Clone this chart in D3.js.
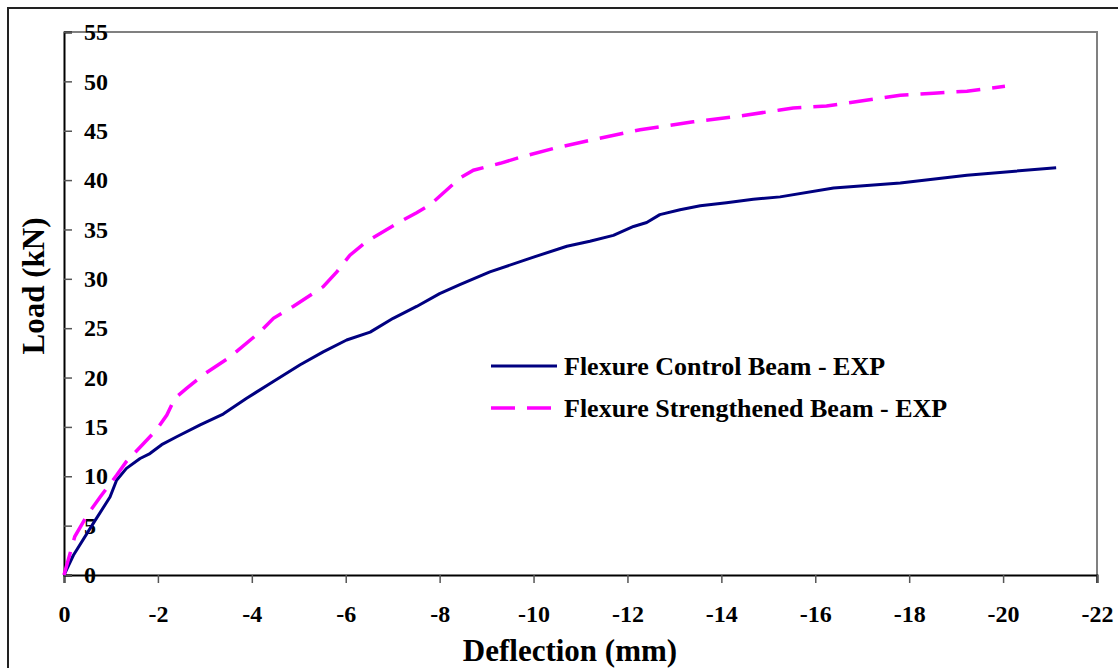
<!DOCTYPE html>
<html>
<head>
<meta charset="utf-8">
<script src="https://cdn.jsdelivr.net/npm/d3@7"></script>
<style>
  html, body { margin: 0; padding: 0; background: #fff; }
  svg { display: block; }
  text { font-family: "Liberation Serif", "DejaVu Serif", serif; font-weight: bold; fill: #000; }
</style>
</head>
<body>
<svg id="chart" width="1118" height="668"></svg>
<script>
// Load–deflection readings for the two beams
const controlDeflection = [0, -0.2, -0.62, -0.98, -1.12, -1.33, -1.62, -1.83, -2.08, -2.4, -2.9, -3.39, -3.89, -4.39, -5.03, -5.52, -6.02, -6.52, -7.01, -7.51, -8.0, -8.43, -9.07, -10.0, -10.71, -11.2, -11.7, -12.13, -12.41, -12.69, -13.12, -13.55, -14.11, -14.68, -15.25, -16.39, -17.81, -19.23, -21.13];
const controlLoad = [0, 2.0, 5.2, 7.9, 9.6, 10.8, 11.8, 12.3, 13.2, 14.0, 15.2, 16.3, 17.9, 19.4, 21.3, 22.6, 23.8, 24.6, 26.0, 27.2, 28.5, 29.4, 30.7, 32.2, 33.3, 33.8, 34.4, 35.3, 35.7, 36.5, 37.0, 37.4, 37.7, 38.05, 38.3, 39.2, 39.7, 40.5, 41.25];

const strengthenedDeflection = [0, -0.23, -0.52, -0.77, -1.12, -1.33, -1.69, -1.97, -2.19, -2.36, -2.61, -2.97, -3.54, -4.17, -4.46, -4.88, -5.52, -5.81, -6.09, -6.45, -7.09, -7.51, -7.8, -8.43, -8.72, -9.29, -9.78, -10.42, -11.27, -12.27, -13.4, -14.26, -15.25, -15.53, -16.24, -16.67, -17.81, -18.52, -19.23, -20.04];
const strengthenedLoad = [0, 3.9, 6.25, 7.9, 10.1, 11.5, 13.3, 14.7, 16.2, 17.9, 18.9, 20.3, 22.1, 24.6, 26.0, 27.2, 29.2, 30.7, 32.4, 33.8, 35.6, 36.7, 37.5, 40.2, 41.0, 41.7, 42.4, 43.2, 44.1, 45.1, 45.9, 46.4, 47.1, 47.3, 47.5, 47.8, 48.6, 48.8, 49.0, 49.5];

const xTicks = [0, -2, -4, -6, -8, -10, -12, -14, -16, -18, -20, -22];
const yTicks = [0, 5, 10, 15, 20, 25, 30, 35, 40, 45, 50, 55];

const seriesNames = ["Flexure Control Beam - EXP", "Flexure Strengthened Beam - EXP"];
const seriesColors = ["#000080", "#ff00ff"];

const serif = '"Liberation Serif", "DejaVu Serif", serif';
const svg = d3.select("#chart");
const plot = { left: 64, right: 1097, top: 32, bottom: 575 };

const x = d3.scaleLinear().domain([0, -22]).range([plot.left, plot.right]);
const y = d3.scaleLinear().domain([0, 55]).range([plot.bottom, plot.top]);

// outer frame
svg.append("rect")
  .attr("x", 8).attr("y", 8).attr("width", 1140).attr("height", 700)
  .attr("fill", "none").attr("stroke", "#222").attr("stroke-width", 2);

// plot frame (top and right edges)
svg.append("path")
  .attr("d", `M${plot.left},${plot.top}H${plot.right}V${plot.bottom + 8}`)
  .attr("fill", "none").attr("stroke", "#808080").attr("stroke-width", 2);

// x axis
const xAxis = svg.append("g")
  .attr("transform", `translate(0,${plot.bottom})`)
  .call(d3.axisBottom(x).tickValues(xTicks).tickSize(8).tickPadding(22).tickFormat(d => String(d)))
  .attr("font-family", serif).attr("font-size", 24).attr("font-weight", "bold");
xAxis.select(".domain").attr("stroke", "#000").attr("stroke-width", 2);
xAxis.selectAll(".tick line").attr("stroke", "#555").attr("stroke-width", 1.5);
xAxis.selectAll(".tick text").attr("fill", "#000");

// y axis: ticks point into the plot, labels sit inside
const yAxis = svg.append("g")
  .attr("transform", `translate(${plot.left},0)`)
  .call(d3.axisRight(y).tickValues(yTicks).tickSize(8).tickPadding(12).tickFormat(d => String(d)))
  .attr("font-family", serif).attr("font-size", 24).attr("font-weight", "bold");
yAxis.select(".domain").attr("stroke", "#000").attr("stroke-width", 2);
yAxis.selectAll(".tick line").attr("stroke", "#555").attr("stroke-width", 1.5);
yAxis.selectAll(".tick text").attr("fill", "#000");

// axis titles
svg.append("text")
  .attr("x", 570).attr("y", 661)
  .attr("text-anchor", "middle").style("font-size", "31px")
  .text("Deflection (mm)");
svg.append("text")
  .attr("transform", "translate(44,286) rotate(-90)")
  .attr("text-anchor", "middle").style("font-size", "31px")
  .text("Load (kN)");

// curves
const line = d3.line().x(d => x(d[0])).y(d => y(d[1]));
const controlData = d3.zip(controlDeflection, controlLoad);
const strengthenedData = d3.zip(strengthenedDeflection, strengthenedLoad);

svg.append("path")
  .datum(controlData)
  .attr("d", line)
  .attr("fill", "none").attr("stroke", seriesColors[0]).attr("stroke-width", 3)
  .attr("stroke-linejoin", "round");
svg.append("path")
  .datum(strengthenedData)
  .attr("d", line)
  .attr("fill", "none").attr("stroke", seriesColors[1]).attr("stroke-width", 3.5)
  .attr("stroke-dasharray", "24,12");

// legend
const legend = svg.append("g").attr("transform", "translate(491,366)");
seriesNames.forEach((name, i) => {
  const row = legend.append("g").attr("transform", `translate(0,${i * 42})`);
  row.append("line")
    .attr("x1", 0).attr("x2", 66).attr("y1", 0).attr("y2", 0)
    .attr("stroke", seriesColors[i]).attr("stroke-width", i ? 3.5 : 3)
    .attr("stroke-dasharray", i ? "24,12" : null);
  row.append("text")
    .attr("x", 73).attr("y", 9)
    .style("font-size", "26px")
    .text(name);
});
</script>
</body>
</html>
